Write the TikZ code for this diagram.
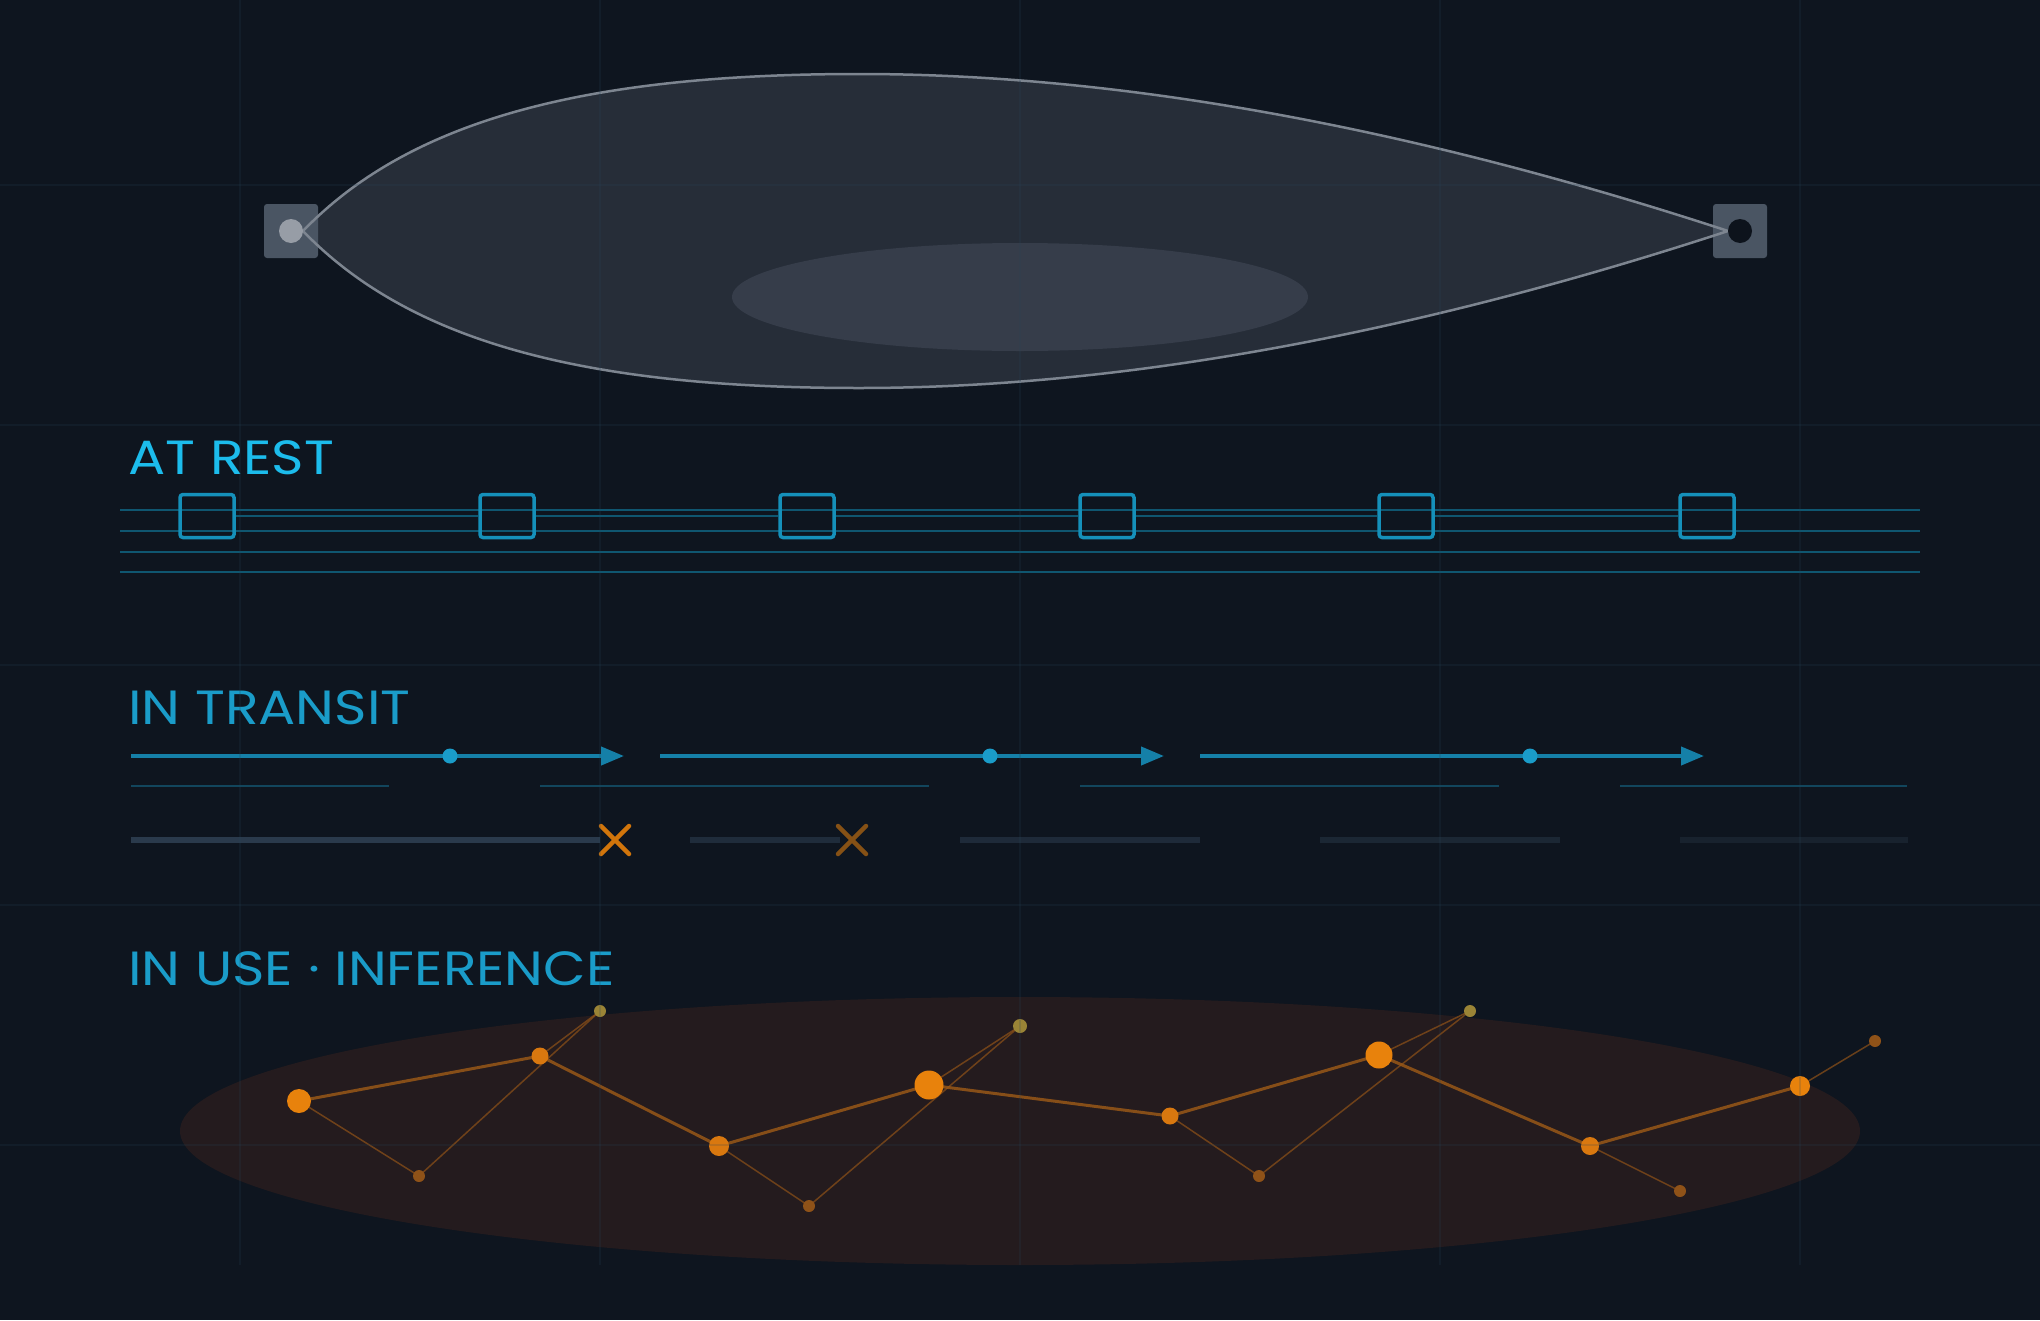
\documentclass[tikz,border=0pt]{standalone}
\usepackage{fontspec}
\setmainfont{Poppins}
\usetikzlibrary{arrows.meta}
\definecolor{bg}{HTML}{0E151F}
\definecolor{gridc}{HTML}{28465A}
\definecolor{lensfill}{HTML}{262D38}
\definecolor{lensedge}{HTML}{7D8590}
\definecolor{lenscore}{HTML}{363D4A}
\definecolor{portgrey}{HTML}{4A5563}
\definecolor{restcyan}{HTML}{1CBCEC}
\definecolor{labelblue}{HTML}{1A9CC9}
\definecolor{restblue}{HTML}{1590BA}
\definecolor{trackblue}{HTML}{0F5670}
\definecolor{flowblue}{HTML}{1580A8}
\definecolor{thinblue}{HTML}{12465D}
\definecolor{hot}{HTML}{E8820C}
\definecolor{warm}{HTML}{D9780F}
\definecolor{ember}{HTML}{8F5218}
\definecolor{olive}{HTML}{9A8436}
\definecolor{usefill}{HTML}{241B1E}
\newcommand{\SEC}[1]{\scalebox{1.15}[1]{\fontsize{48}{56}\selectfont #1}}
\tikzset{
  port/.style={rectangle, fill=portgrey, minimum size=54pt, rounded corners=3pt, inner sep=0pt},
  portdot/.style={circle, minimum size=24pt, inner sep=0pt},
  lensline/.style={draw=lensedge, line width=2.5pt},
  vault/.style={rectangle, draw=restblue, line width=3.5pt, minimum width=54pt, minimum height=43pt, rounded corners=3pt, inner sep=0pt},
  restline/.style={draw=trackblue, line width=2.5pt},
  flow/.style={draw=flowblue, line width=4pt, -{Triangle[length=23pt, width=18pt]}},
  packet/.style={circle, fill=labelblue, minimum size=15pt, inner sep=0pt},
  drop/.style={line width=4.5pt, line cap=round},
  hop/.style={draw=ember!90!hot, line width=3pt, opacity=0.85},
  side/.style={draw=ember, line width=1.5pt, opacity=0.7},
  neuron/.style={circle, inner sep=0pt}
}
\newcommand\lenspath{(lensL) .. controls (410,120) and (585,74) .. (859,74) .. controls (1150,74) and (1450,140) .. (lensR) .. controls (1450,322) and (1150,388) .. (859,388) .. controls (585,388) and (410,342) .. cycle}

\begin{document}
\begin{tikzpicture}[x=1pt, y=-1pt]

  \fill[bg] (0,0) rectangle (2040,1320);
  \useasboundingbox (0,0) rectangle (2040,1320);

  %% the lens between the two ports
  \coordinate (lensL) at (303,231);
  \coordinate (lensR) at (1728,231);
  \fill[lensfill] \lenspath;
  \fill[lenscore] (1020,297) ellipse [x radius=288pt, y radius=54pt];
  \node[port] (src) at (291,231) {};
  \node[port] (dst) at (1740,231) {};
  \draw[lensline] \lenspath;
  \node[portdot, fill=lensedge!80!white] (srcdot) at (src) {};
  \node[portdot, fill=bg!90!black] (dstdot) at (dst) {};

  %% at rest
  \node[anchor=base west, text=restcyan, inner sep=0pt] (rest) at (128,474) {\SEC{AT REST}};
  \foreach \y in {510,531,552,572}
    \draw[restline] (120,\y) -- (1920,\y);
  \foreach \i/\x in {1/207,2/507,3/807,4/1107,5/1406,6/1707}
    \node[vault] (v\i) at (\x,516) {};
  \foreach \i [evaluate=\i as \j using int(\i+1)] in {1,...,5}
    \draw[restline] (v\i) -- (v\j);

  %% in transit
  \node[anchor=base west, text=labelblue, inner sep=0pt] (transit) at (128,724) {\SEC{IN TRANSIT}};
  \foreach \i/\a/\m/\b in {1/131/450/624, 2/660/990/1164, 3/1200/1530/1704} {
    \coordinate (t\i s) at (\a,756);
    \coordinate (t\i e) at (\b,756);
    \draw[flow] (t\i s) -- (t\i e);
    \node[packet] (p\i) at (\m,756) {};
  }
  \foreach \a/\b in {131/389, 540/929, 1080/1499, 1620/1907}
    \draw[thinblue, line width=2pt] (\a,786) -- (\b,786);
  \foreach \a/\b/\c in {131/600/2A3A4C, 690/840/1F2C3B, 960/1200/1E2A39, 1320/1560/1B2734, 1680/1908/18222E} {
    \definecolor{barc}{HTML}{\c}
    \draw[barc, line width=6pt] (\a,840) -- (\b,840);
  }
  \coordinate (x1) at (615,840);
  \coordinate (x2) at (852,840);
  \draw[drop, hot!90!black] ([shift={(-14,-14)}]x1) -- ([shift={(14,14)}]x1) ([shift={(-14,14)}]x1) -- ([shift={(14,-14)}]x1);
  \draw[drop, hot!55!bg] ([shift={(-14,-14)}]x2) -- ([shift={(14,14)}]x2) ([shift={(-14,14)}]x2) -- ([shift={(14,-14)}]x2);

  %% in use
  \node[anchor=base west, text=labelblue, inner sep=0pt] (use) at (128,985) {\SEC{IN USE · INFERENCE}};
  \fill[usefill] (1020,1131) ellipse [x radius=840pt, y radius=134pt];

  \foreach \n/\x/\y in {b1/419/1176, b2/809/1206, b3/1259/1176, b4/1680/1191, b5/1875/1041}
    \coordinate (\n) at (\x,\y);
  \foreach \n/\x/\y in {c1/600/1011, c2/1020/1026, c3/1470/1011}
    \coordinate (\n) at (\x,\y);
  \foreach \n/\x/\y in {a1/299/1101, a2/540/1056, a3/719/1146, a4/929/1085, a5/1170/1116, a6/1379/1055, a7/1590/1146, a8/1800/1086}
    \coordinate (\n) at (\x,\y);

  \foreach \u/\v in {a1/b1, b1/c1, a2/c1, a3/b2, b2/c2, a4/c2, a5/b3, b3/c3, a6/c3, a7/b4, a8/b5}
    \draw[side] (\u) -- (\v);
  \foreach \u/\v in {a1/a2, a2/a3, a3/a4, a4/a5, a5/a6, a6/a7, a7/a8}
    \draw[hop] (\u) -- (\v);

  \foreach \n/\r in {b1/6, b2/6, b3/6, b4/6, b5/6}
    \node[neuron, fill=ember, minimum size=2*\r pt] at (\n) {};
  \foreach \n/\r in {c1/6, c2/7, c3/6}
    \node[neuron, fill=olive, minimum size=2*\r pt] at (\n) {};
  \foreach \n/\r/\c in {a1/12/hot, a2/8.5/warm, a3/10/warm, a4/14.5/hot, a5/8.5/warm, a6/13.5/hot, a7/9/warm, a8/10/hot}
    \node[neuron, fill=\c, minimum size=2*\r pt] at (\n) {};

  %% faint grid
  \foreach \y in {185,425,665,905,1145}
    \draw[gridc, opacity=0.18, line width=1.5pt] (0,\y) -- (2040,\y);
  \foreach \x in {240,600,1020,1440,1800}
    \draw[gridc, opacity=0.18, line width=1.5pt] (\x,0) -- (\x,1265);

\end{tikzpicture}
\end{document}
